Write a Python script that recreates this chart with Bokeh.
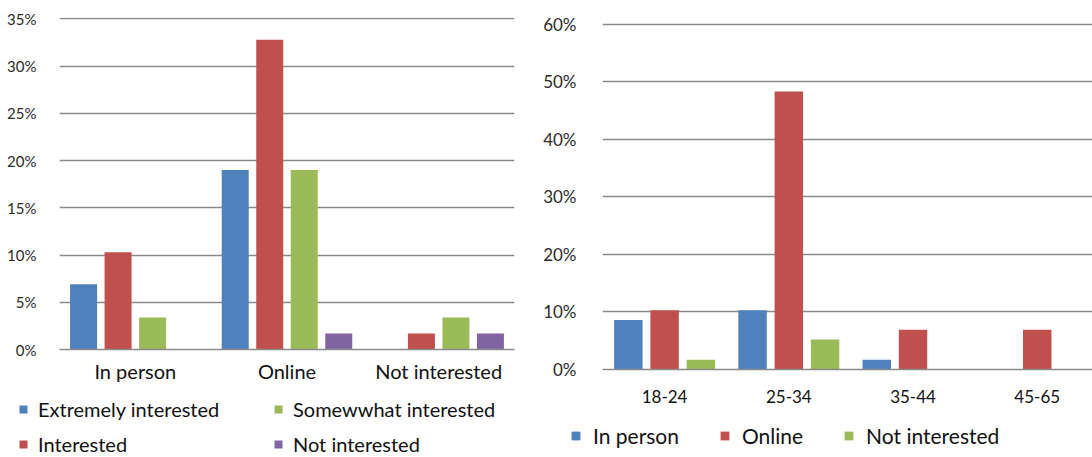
from bokeh.plotting import figure
from bokeh.models import (Range1d, FixedTicker, PrintfTickFormatter, Legend,
                          LegendItem, ColumnDataSource)
from bokeh.transform import dodge
from bokeh.layouts import row, column
from bokeh.embed import file_html
from bokeh.resources import INLINE

# ---------------- data ----------------
left_categories = ["In person", "Online", "Not interested"]
left_series = ["Extremely interested", "Interested", "Somewwhat interested", "Not interested"]
extremely_interested = [6.9, 19.0, 0.0]
interested = [10.3, 32.8, 1.7]
somewhat_interested = [3.4, 19.0, 3.4]
not_interested = [0.0, 1.7, 1.7]
left_ticks = [0, 5, 10, 15, 20, 25, 30, 35]

right_categories = ["18-24", "25-34", "35-44", "45-65"]
right_series = ["In person", "Online", "Not interested"]
age_in_person = [8.6, 10.3, 1.7, 0.0]
age_online = [10.3, 48.3, 6.9, 6.9]
age_not_interested = [1.7, 5.2, 0.0, 0.0]
right_ticks = [0, 10, 20, 30, 40, 50, 60]

# ---------------- style ----------------
FONT = "Lato"
COLORS = ["#4F81BD", "#C0504D", "#9BBB59", "#8064A2"]
GRID = "#8a8a8a"


def base_style(p, ticks, ysize, xsize, ystand, xstand):
    p.outline_line_color = None
    p.background_fill_color = "white"
    p.border_fill_color = "white"
    p.xgrid.grid_line_color = None
    p.ygrid.grid_line_color = GRID
    p.ygrid.grid_line_width = 1.4
    p.yaxis.ticker = FixedTicker(ticks=ticks)
    p.yaxis.formatter = PrintfTickFormatter(format="%d%%")
    for ax in (p.xaxis, p.yaxis):
        ax.major_tick_line_color = None
        ax.minor_tick_line_color = None
        ax.major_label_text_font = FONT
    p.yaxis.axis_line_color = None
    p.xaxis.axis_line_color = GRID
    p.xaxis.axis_line_width = 1.4
    p.yaxis.major_label_text_font_size = ysize
    p.yaxis.major_label_text_color = "#2b2b2b"
    p.yaxis.major_label_standoff = ystand
    p.xaxis.major_label_text_font_size = xsize
    p.xaxis.major_label_text_color = "#111111"
    p.xaxis.major_label_standoff = xstand


def legend_figure(width, height):
    f = figure(width=width, height=height, output_backend="svg", toolbar_location=None,
               x_range=Range1d(0, 1), y_range=Range1d(0, 1),
               x_axis_location=None, y_axis_location=None,
               min_border=0, frame_align=False)
    f.outline_line_color = None
    f.xgrid.visible = False
    f.ygrid.visible = False
    return f


def legend_style(lg, size):
    lg.border_line_color = None
    lg.background_fill_alpha = 0
    lg.padding = 0
    lg.margin = 0
    lg.label_text_font = FONT
    lg.label_text_font_size = size
    lg.label_text_color = "#111111"
    lg.label_height = 22


# ---------------- left chart ----------------
lsrc = ColumnDataSource(dict(
    pos=[i + 0.5 for i in range(len(left_categories))],
    s0=extremely_interested, s1=interested, s2=somewhat_interested, s3=not_interested,
))
lcols = ["s0", "s1", "s2", "s3"]

p1 = figure(width=540, height=390, output_backend="svg", toolbar_location=None,
            x_range=Range1d(0, len(left_categories)), y_range=Range1d(0, 35.15),
            min_border_left=59, min_border_right=26, min_border_top=17,
            min_border_bottom=41, frame_align=False)
base_style(p1, left_ticks, "15px", "20px", 17, 3)
p1.xaxis.ticker = FixedTicker(ticks=[i + 0.5 for i in range(len(left_categories))])
p1.xaxis.major_label_overrides = {i + 0.5: c for i, c in enumerate(left_categories)}

step_l = 0.2275
width_l = 0.178
for k, col in enumerate(lcols):
    p1.vbar(x=dodge("pos", (k - 1.5) * step_l, range=p1.x_range), top=col,
            width=width_l, source=lsrc, color=COLORS[k], line_color=None)

# legend strip under the left chart
l1 = legend_figure(540, 67)
lrs = []
for k, col in enumerate(lcols):
    r = l1.vbar(x="pos", top=col, width=0.1, source=lsrc, color=COLORS[k],
                line_color=None, visible=False)
    lrs.append(r)
legA = Legend(items=[LegendItem(label=left_series[0], renderers=[lrs[0]]),
                     LegendItem(label=left_series[1], renderers=[lrs[1]])],
              location=(18, 1))
legB = Legend(items=[LegendItem(label=left_series[2], renderers=[lrs[2]]),
                     LegendItem(label=left_series[3], renderers=[lrs[3]])],
              location=(273, 1))
for lg in (legA, legB):
    legend_style(lg, "20px")
    lg.spacing = 11
    lg.glyph_width = 10
    lg.glyph_height = 10
    lg.label_standoff = 10
    l1.add_layout(lg)

# ---------------- right chart ----------------
rsrc = ColumnDataSource(dict(
    pos=[i + 0.5 for i in range(len(right_categories))],
    a0=age_in_person, a1=age_online, a2=age_not_interested,
))
rcols = ["a0", "a1", "a2"]

p2 = figure(width=552, height=410, output_backend="svg", toolbar_location=None,
            x_range=Range1d(0, 3.945), y_range=Range1d(0, 60.3),
            min_border_left=53, min_border_right=0, min_border_top=22,
            min_border_bottom=41, frame_align=False)
base_style(p2, right_ticks, "17px", "17px", 20, 14)
p2.xaxis.ticker = FixedTicker(ticks=[i + 0.5 for i in range(len(right_categories))])
p2.xaxis.major_label_overrides = {i + 0.5: c for i, c in enumerate(right_categories)}

step_r = 0.292
width_r = 0.229
for k, col in enumerate(rcols):
    p2.vbar(x=dodge("pos", (k - 1) * step_r, range=p2.x_range), top=col,
            width=width_r, source=rsrc, color=COLORS[k], line_color=None)

l2 = legend_figure(552, 47)
rrs = []
for k, col in enumerate(rcols):
    r = l2.vbar(x="pos", top=col, width=0.1, source=rsrc, color=COLORS[k],
                line_color=None, visible=False)
    rrs.append(r)
legR = Legend(items=[LegendItem(label=right_series[k], renderers=[rrs[k]]) for k in range(3)],
              location=(30, 9), orientation="horizontal")
legend_style(legR, "21px")
legR.spacing = 40
legR.glyph_width = 11
legR.glyph_height = 11
legR.label_standoff = 12
l2.add_layout(legR)

layout = row(column(p1, l1, spacing=0), column(p2, l2, spacing=0), spacing=0)
open("out.html", "w").write(file_html(layout, INLINE))
